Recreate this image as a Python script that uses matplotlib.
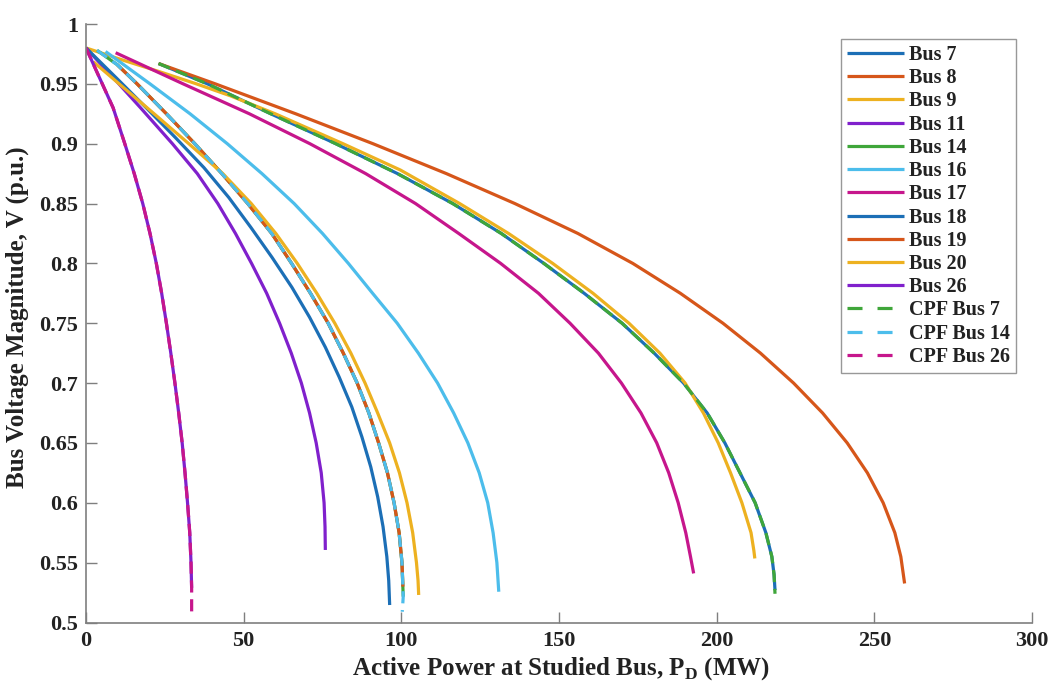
import matplotlib
matplotlib.use("Agg")
import matplotlib.pyplot as plt
from matplotlib.lines import Line2D
from matplotlib.ticker import FuncFormatter

# ---- data (P in MW, V in p.u.) ----
bus7_V = [0.967, 0.95, 0.925, 0.9, 0.875, 0.85, 0.825, 0.8, 0.775, 0.75, 0.725, 0.7, 0.675, 0.65, 0.625, 0.6, 0.575, 0.555, 0.54, 0.527]
bus7_P = [23, 38.5, 58.6, 79.2, 98.8, 116.3, 131.7, 145.2, 158.0, 170.0, 180.2, 189.5, 197.0, 202.6, 207.4, 212.2, 215.6, 217.5, 218.2, 218.5]

bus8_V = [0.967, 0.96, 0.95, 0.925, 0.9, 0.875, 0.85, 0.825, 0.8, 0.775, 0.75, 0.725, 0.7, 0.675, 0.65, 0.625, 0.6, 0.575, 0.555, 0.5326]
bus8_P = [23, 30.4, 41.0, 66.5, 91.0, 114.3, 136.0, 156.0, 173.4, 188.5, 202.0, 213.9, 224.4, 233.6, 241.4, 247.8, 252.8, 256.5, 258.4, 259.6]

bus9_V = [0.98, 0.97, 0.96, 0.95, 0.94, 0.925, 0.9, 0.878, 0.85, 0.825, 0.8, 0.775, 0.75, 0.725, 0.7, 0.675, 0.65, 0.625, 0.6, 0.575, 0.56, 0.5535]
bus9_P = [0, 11.5, 23.5, 35.0, 45.8, 60.0, 81.5, 99.7, 118.5, 134.0, 148.0, 160.8, 172.2, 182.0, 190.0, 195.8, 200.5, 204.4, 208.0, 210.9, 211.8, 212.1]

bus11_V = [0.98, 0.955, 0.93, 0.9, 0.875, 0.85, 0.825, 0.8, 0.775, 0.75, 0.725, 0.7, 0.675, 0.65, 0.625, 0.6, 0.58, 0.5606]
bus11_P = [0, 8.7, 17.3, 27.4, 35.3, 41.8, 47.4, 52.5, 57.3, 61.4, 65.1, 68.3, 70.9, 73.0, 74.6, 75.5, 75.8, 75.9]

bus14_V = [0.978, 0.966, 0.95, 0.925, 0.9, 0.875, 0.85, 0.825, 0.8, 0.775, 0.75, 0.725, 0.7, 0.675, 0.65, 0.625, 0.6, 0.575, 0.55, 0.5216]
bus14_P = [3.5, 9.9, 16.2, 25.5, 34.5, 43.1, 51.3, 58.9, 65.2, 71.2, 76.8, 81.6, 86.0, 89.7, 92.8, 95.6, 97.7, 99.3, 100.2, 100.6]

bus16_V = [0.977, 0.95, 0.925, 0.9, 0.875, 0.85, 0.825, 0.8, 0.775, 0.75, 0.725, 0.7, 0.675, 0.65, 0.625, 0.6, 0.575, 0.55, 0.5257]
bus16_P = [6.2, 20.3, 33.0, 44.8, 55.8, 66.0, 75.0, 83.2, 90.9, 98.7, 105.4, 111.5, 116.6, 121.1, 124.7, 127.4, 129.1, 130.3, 130.9]

bus17_V = [0.976, 0.95, 0.925, 0.9, 0.875, 0.85, 0.825, 0.8, 0.775, 0.75, 0.725, 0.7, 0.675, 0.65, 0.625, 0.6, 0.575, 0.555, 0.541]
bus17_P = [9.4, 30.8, 51.8, 71.0, 88.7, 104.5, 118.2, 131.5, 143.5, 153.5, 162.5, 169.8, 176.0, 181.0, 184.8, 187.8, 190.2, 191.7, 192.7]

bus18_V = [0.98, 0.955, 0.93, 0.905, 0.88, 0.855, 0.83, 0.805, 0.78, 0.755, 0.73, 0.705, 0.68, 0.655, 0.63, 0.605, 0.58, 0.555, 0.535, 0.5146]
bus18_P = [0, 9.6, 19.1, 28.4, 37.4, 45.3, 52.3, 59.0, 65.3, 70.9, 75.9, 80.3, 84.3, 87.5, 90.3, 92.5, 94.2, 95.4, 96.0, 96.3]

bus19_V = [0.966, 0.95, 0.925, 0.9, 0.875, 0.85, 0.825, 0.8, 0.775, 0.75, 0.725, 0.7, 0.675, 0.65, 0.625, 0.6, 0.575, 0.55, 0.53]
bus19_P = [9.9, 16.2, 25.5, 34.5, 43.1, 51.3, 58.9, 65.2, 71.2, 76.8, 81.6, 86.0, 89.7, 92.8, 95.6, 97.7, 99.3, 100.2, 100.5]

bus20_V = [0.9685, 0.95, 0.925, 0.9, 0.875, 0.85, 0.825, 0.8, 0.775, 0.75, 0.725, 0.7, 0.675, 0.65, 0.625, 0.6, 0.575, 0.55, 0.535, 0.523]
bus20_P = [2.3, 10.5, 21.6, 32.6, 43.4, 52.4, 60.2, 67.0, 73.2, 78.9, 84.0, 88.5, 92.5, 96.3, 99.4, 101.8, 103.6, 104.8, 105.3, 105.5]

bus26_V = [0.98, 0.955, 0.93, 0.9, 0.875, 0.85, 0.825, 0.8, 0.775, 0.75, 0.725, 0.7, 0.675, 0.65, 0.625, 0.6, 0.575, 0.55, 0.529]
bus26_P = [0, 4.3, 8.6, 12.3, 15.3, 18.0, 20.3, 22.3, 24.0, 25.5, 26.9, 28.2, 29.4, 30.5, 31.4, 32.2, 32.9, 33.3, 33.5]

cpf7_V = [0.967, 0.95, 0.925, 0.9, 0.875, 0.85, 0.825, 0.8, 0.775, 0.75, 0.725, 0.7, 0.675, 0.65, 0.625, 0.6, 0.575, 0.555, 0.54, 0.524]
cpf7_P = [23, 38.5, 58.6, 79.2, 98.8, 116.3, 131.7, 145.2, 158.0, 170.0, 180.2, 189.5, 197.0, 202.6, 207.4, 212.2, 215.6, 217.5, 218.2, 218.5]

cpf14_V = [0.978, 0.966, 0.95, 0.925, 0.9, 0.875, 0.85, 0.825, 0.8, 0.775, 0.75, 0.725, 0.7, 0.675, 0.65, 0.625, 0.6, 0.575, 0.55, 0.5216, 0.509]
cpf14_P = [3.5, 9.9, 16.2, 25.5, 34.5, 43.1, 51.3, 58.9, 65.2, 71.2, 76.8, 81.6, 86.0, 89.7, 92.8, 95.6, 97.7, 99.3, 100.2, 100.6, 100.3]

cpf26_V = [0.98, 0.955, 0.93, 0.9, 0.875, 0.85, 0.825, 0.8, 0.775, 0.75, 0.725, 0.7, 0.675, 0.65, 0.625, 0.6, 0.575, 0.55, 0.529, 0.507]
cpf26_P = [0, 4.3, 8.6, 12.3, 15.3, 18.0, 20.3, 22.3, 24.0, 25.5, 26.9, 28.2, 29.4, 30.5, 31.4, 32.2, 32.9, 33.3, 33.5, 33.5]

labels = ["Bus 7", "Bus 8", "Bus 9", "Bus 11", "Bus 14", "Bus 16", "Bus 17",
          "Bus 18", "Bus 19", "Bus 20", "Bus 26", "CPF Bus 7", "CPF Bus 14", "CPF Bus 26"]

xticks = [0, 50, 100, 150, 200, 250, 300]
yticks = [0.5, 0.55, 0.6, 0.65, 0.7, 0.75, 0.8, 0.85, 0.9, 0.95, 1.0]

# ---- styling ----
C_BLUE = "#1C6FB6"
C_ORANGE = "#D6561A"
C_YELLOW = "#EDB120"
C_PURPLE = "#8020CC"
C_GREEN = "#3FA63A"
C_CYAN = "#4CBDEB"
C_MAGENTA = "#C6168C"
TXT = "#222222"

plt.rcParams["font.family"] = ["Liberation Serif", "DejaVu Serif"]
plt.rcParams["font.weight"] = "bold"
plt.rcParams["mathtext.fontset"] = "custom"
plt.rcParams["mathtext.rm"] = "Liberation Serif:bold"
plt.rcParams["mathtext.bf"] = "Liberation Serif:bold"

fig = plt.figure(figsize=(10.51, 6.82), dpi=100)
ax = fig.add_axes([86 / 1051, 1 - 622.5 / 682, (1032 - 86) / 1051, (622.5 - 24) / 682])

lw = 2.3
DASH = (0, (3.8, 2.1))
series = [
    (bus7_P, bus7_V, C_BLUE, "-"),
    (bus8_P, bus8_V, C_ORANGE, "-"),
    (bus9_P, bus9_V, C_YELLOW, "-"),
    (bus11_P, bus11_V, C_PURPLE, "-"),
    (bus14_P, bus14_V, C_GREEN, "-"),
    (bus16_P, bus16_V, C_CYAN, "-"),
    (bus17_P, bus17_V, C_MAGENTA, "-"),
    (bus18_P, bus18_V, C_BLUE, "-"),
    (bus19_P, bus19_V, C_ORANGE, "-"),
    (bus20_P, bus20_V, C_YELLOW, "-"),
    (bus26_P, bus26_V, C_PURPLE, "-"),
    (cpf7_P, cpf7_V, C_GREEN, DASH),
    (cpf14_P, cpf14_V, C_CYAN, DASH),
    (cpf26_P, cpf26_V, C_MAGENTA, DASH),
]
handles = []
for (p, v, c, ls), lab in zip(series, labels):
    ax.plot(p, v, color=c, linestyle=ls, linewidth=lw, solid_capstyle="butt",
            solid_joinstyle="round")
    hls = "-" if ls == "-" else (0, (4.7, 4.7))
    handles.append(Line2D([], [], color=c, linestyle=hls, linewidth=lw,
                          solid_capstyle="butt", dash_capstyle="butt"))

ax.set_xlim(0, 300)
ax.set_ylim(0.5, 1.0)
ax.set_xticks(xticks)
ax.set_yticks(yticks)
ax.yaxis.set_major_formatter(FuncFormatter(lambda v, _: f"{v:g}"))
ax.xaxis.set_major_formatter(FuncFormatter(lambda v, _: f"{v:g}"))

for s in ["top", "right"]:
    ax.spines[s].set_visible(False)
for s in ["left", "bottom"]:
    ax.spines[s].set_color("#7f7f7f")
    ax.spines[s].set_linewidth(1.2)
ax.tick_params(direction="in", length=8, width=1.0, color="#7f7f7f",
               labelsize=16, labelcolor=TXT)
ax.tick_params(axis="x", pad=6)
ax.tick_params(axis="y", pad=5.5)
for t in ax.get_xticklabels() + ax.get_yticklabels():
    t.set_fontweight("bold")

ax.set_xlabel(r"Active Power at Studied Bus, P$_{\rm D}$ (MW)", fontsize=18,
              fontweight="bold", color=TXT)
ax.set_ylabel("Bus Voltage Magnitude, V (p.u.)", fontsize=18,
              fontweight="bold", color=TXT)
ax.xaxis.set_label_coords(0.502, -0.054)
ax.yaxis.set_label_coords(-0.0603, 0.51)

leg = ax.legend(handles, labels, loc="upper right", bbox_to_anchor=(0.983, 0.975),
                borderaxespad=0, prop={"size": 14.5, "weight": "bold"},
                frameon=True, fancybox=False, edgecolor="#7f7f7f",
                handlelength=2.8, handletextpad=0.25, labelspacing=0.16,
                borderpad=0.3)
leg.get_frame().set_linewidth(1.0)
for t in leg.get_texts():
    t.set_color(TXT)

fig.savefig("out.png", dpi=100)
